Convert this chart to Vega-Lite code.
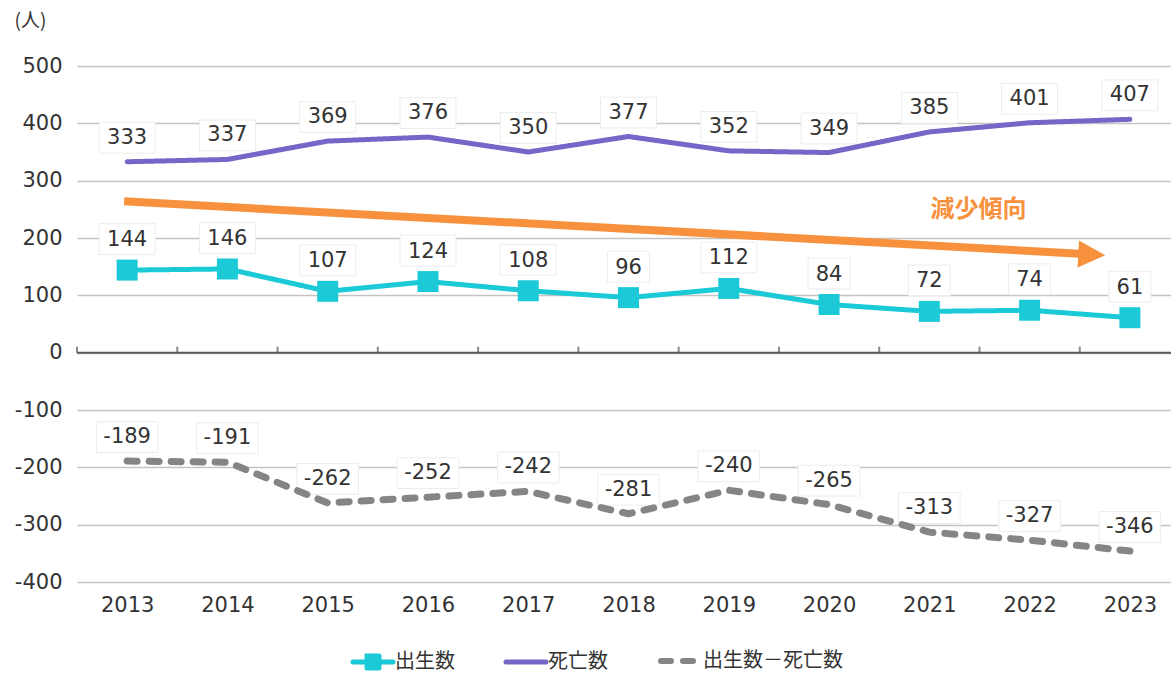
{
  "$schema": "https://vega.github.io/schema/vega-lite/v6.json",
  "width": 1094,
  "height": 516,
  "autosize": {"type": "none"},
  "padding": {"left": 77, "top": 66, "right": 0, "bottom": 91},
  "background": "white",
  "config": {"view": {"stroke": null}, "font": "DejaVu Sans"},
  "datasets": {
    "main": [
      {"year": 2013, "series": "出生数", "value": 144},
      {"year": 2014, "series": "出生数", "value": 146},
      {"year": 2015, "series": "出生数", "value": 107},
      {"year": 2016, "series": "出生数", "value": 124},
      {"year": 2017, "series": "出生数", "value": 108},
      {"year": 2018, "series": "出生数", "value": 96},
      {"year": 2019, "series": "出生数", "value": 112},
      {"year": 2020, "series": "出生数", "value": 84},
      {"year": 2021, "series": "出生数", "value": 72},
      {"year": 2022, "series": "出生数", "value": 74},
      {"year": 2023, "series": "出生数", "value": 61},
      {"year": 2013, "series": "死亡数", "value": 333},
      {"year": 2014, "series": "死亡数", "value": 337},
      {"year": 2015, "series": "死亡数", "value": 369},
      {"year": 2016, "series": "死亡数", "value": 376},
      {"year": 2017, "series": "死亡数", "value": 350},
      {"year": 2018, "series": "死亡数", "value": 377},
      {"year": 2019, "series": "死亡数", "value": 352},
      {"year": 2020, "series": "死亡数", "value": 349},
      {"year": 2021, "series": "死亡数", "value": 385},
      {"year": 2022, "series": "死亡数", "value": 401},
      {"year": 2023, "series": "死亡数", "value": 407},
      {"year": 2013, "series": "出生数－死亡数", "value": -189},
      {"year": 2014, "series": "出生数－死亡数", "value": -191},
      {"year": 2015, "series": "出生数－死亡数", "value": -262},
      {"year": 2016, "series": "出生数－死亡数", "value": -252},
      {"year": 2017, "series": "出生数－死亡数", "value": -242},
      {"year": 2018, "series": "出生数－死亡数", "value": -281},
      {"year": 2019, "series": "出生数－死亡数", "value": -240},
      {"year": 2020, "series": "出生数－死亡数", "value": -265},
      {"year": 2021, "series": "出生数－死亡数", "value": -313},
      {"year": 2022, "series": "出生数－死亡数", "value": -327},
      {"year": 2023, "series": "出生数－死亡数", "value": -346}
    ],
    "ticks": [
      {"year": 2012.5, "value": 0}, {"year": 2013.5, "value": 0}, {"year": 2014.5, "value": 0},
      {"year": 2015.5, "value": 0}, {"year": 2016.5, "value": 0}, {"year": 2017.5, "value": 0},
      {"year": 2018.5, "value": 0}, {"year": 2019.5, "value": 0}, {"year": 2020.5, "value": 0},
      {"year": 2021.5, "value": 0}, {"year": 2022.5, "value": 0}
    ],
    "arrow": [
      {"year": 2012.97, "value": 263.9},
      {"year": 2022.5, "value": 172.7}
    ],
    "arrowhead": [
      {"year": 2022.62, "value": 171}
    ],
    "note": [
      {"year": 2021.49, "value": 249.6, "label": "減少傾向"}
    ]
  },
  "layer": [
    {
      "data": {"values": [{"value": 0}]},
      "mark": {"type": "rule", "color": "#595959", "strokeWidth": 2},
      "encoding": {
        "y": {
          "field": "value",
          "type": "quantitative",
          "scale": {"domain": [-400, 500], "nice": false, "zero": false},
          "axis": {
            "values": [-400, -300, -200, -100, 0, 100, 200, 300, 400, 500],
            "labelExpr": "'' + datum.value",
            "grid": true,
            "gridColor": "#c4c4c4",
            "gridWidth": 1.5,
            "domain": false,
            "ticks": false,
            "labelFontSize": 21,
            "labelColor": "#333333",
            "labelPadding": 15,
            "title": "(人)",
            "titleFont": "Noto Sans CJK JP",
            "titleFontSize": 19,
            "titleFontWeight": "normal",
            "titleColor": "#333333",
            "titleAngle": 0,
            "titleAlign": "left",
            "titleBaseline": "middle",
            "titleX": -63,
            "titleY": -46
          }
        }
      }
    },
    {
      "data": {"name": "ticks"},
      "mark": {"type": "tick", "orient": "vertical", "color": "#595959", "size": 6, "thickness": 2, "yOffset": -3},
      "encoding": {
        "x": {
          "field": "year",
          "type": "quantitative",
          "scale": {"domain": [2012.5, 2023.41], "nice": false, "zero": false},
          "axis": {
            "values": [2013, 2014, 2015, 2016, 2017, 2018, 2019, 2020, 2021, 2022, 2023],
            "format": "d",
            "grid": false,
            "domain": false,
            "ticks": false,
            "labelFontSize": 21,
            "labelColor": "#333333",
            "labelPadding": 12,
            "labelFlush": false,
            "title": null
          }
        },
        "y": {"field": "value", "type": "quantitative"}
      }
    },
    {
      "data": {"name": "main"},
      "transform": [{"filter": "datum.series !== '出生数'"}],
      "mark": {"type": "point", "filled": true, "fill": "white", "stroke": "#ececec", "strokeWidth": 1, "opacity": 1, "size": 3136, "yOffset": -24},
      "encoding": {
        "x": {"field": "year", "type": "quantitative"},
        "y": {"field": "value", "type": "quantitative"},
        "shape": {
          "condition": {"test": "datum.series === '出生数－死亡数'", "value": "M-1.1,-0.55H1.1V0.55H-1.1Z"},
          "value": "M-1,-0.55H1V0.55H-1Z"
        }
      }
    },
    {
      "data": {"name": "main"},
      "transform": [{"filter": "datum.series === '出生数'"}],
      "mark": {"type": "point", "filled": true, "fill": "white", "stroke": "#ececec", "strokeWidth": 1, "opacity": 1, "size": 3136, "yOffset": -31},
      "encoding": {
        "x": {"field": "year", "type": "quantitative"},
        "y": {"field": "value", "type": "quantitative"},
        "shape": {
          "condition": {"test": "datum.value < 100", "value": "M-0.75,-0.55H0.75V0.55H-0.75Z"},
          "value": "M-1,-0.55H1V0.55H-1Z"
        }
      }
    },
    {
      "data": {"name": "arrow"},
      "mark": {"type": "line", "color": "#F7913D", "strokeWidth": 8, "strokeCap": "butt"},
      "encoding": {
        "x": {"field": "year", "type": "quantitative"},
        "y": {"field": "value", "type": "quantitative"}
      }
    },
    {
      "data": {"name": "arrowhead"},
      "mark": {"type": "point", "shape": "M-1,-1L1,0L-1,1Z", "filled": true, "color": "#F7913D", "opacity": 1, "size": 729, "angle": 3.1},
      "encoding": {
        "x": {"field": "year", "type": "quantitative"},
        "y": {"field": "value", "type": "quantitative"}
      }
    },
    {
      "data": {"name": "main"},
      "mark": {"type": "line", "strokeJoin": "round", "strokeCap": "round"},
      "encoding": {
        "x": {"field": "year", "type": "quantitative"},
        "y": {"field": "value", "type": "quantitative"},
        "color": {
          "field": "series",
          "type": "nominal",
          "scale": {"domain": ["出生数", "死亡数", "出生数－死亡数"], "range": ["#1BCAD6", "#7467C7", "#858585"]},
          "legend": {
            "orient": "none",
            "legendX": 286,
            "legendY": 585,
            "direction": "horizontal",
            "title": null,
            "labelFont": "Noto Sans CJK JP",
            "labelFontSize": 20,
            "labelColor": "#333333",
            "symbolSize": 1600,
            "symbolStrokeWidth": 5,
            "columnPadding": 41,
            "labelOffset": 12,
            "encode": {
              "symbols": {
                "update": {
                  "shape": {"signal": "datum.value === '出生数' ? 'M-1,0H1M-0.3,-0.3H0.3V0.3H-0.3ZM0,-0.5M0,0.5' : 'M-1,0H1M0,-0.5M0,0.5'"},
                  "fill": {"signal": "datum.value === '出生数' ? '#1BCAD6' : 'transparent'"},
                  "strokeDash": {"signal": "datum.value === '出生数－死亡数' ? [10, 13] : [1, 0]"},
                  "strokeCap": {"value": "round"},
                  "strokeWidth": {"signal": "datum.value === '出生数－死亡数' ? 6 : 5"}
                }
              }
            }
          }
        },
        "strokeDash": {
          "field": "series",
          "type": "nominal",
          "scale": {"domain": ["出生数", "死亡数", "出生数－死亡数"], "range": [[1, 0], [1, 0], [10, 12]]},
          "legend": null
        },
        "strokeWidth": {
          "condition": {"test": "datum.series === '出生数－死亡数'", "value": 7},
          "value": 5
        }
      }
    },
    {
      "data": {"name": "main"},
      "transform": [{"filter": "datum.series === '出生数'"}],
      "mark": {"type": "point", "shape": "square", "filled": true, "color": "#1BCAD6", "opacity": 1, "size": 441},
      "encoding": {
        "x": {"field": "year", "type": "quantitative"},
        "y": {"field": "value", "type": "quantitative"}
      }
    },
    {
      "data": {"name": "main"},
      "transform": [{"filter": "datum.series !== '出生数'"}],
      "mark": {"type": "text", "fontSize": 21, "color": "#333333", "baseline": "middle", "align": "center", "dy": -24},
      "encoding": {
        "x": {"field": "year", "type": "quantitative"},
        "y": {"field": "value", "type": "quantitative"},
        "text": {"field": "value", "type": "nominal"}
      }
    },
    {
      "data": {"name": "main"},
      "transform": [{"filter": "datum.series === '出生数'"}],
      "mark": {"type": "text", "fontSize": 21, "color": "#333333", "baseline": "middle", "align": "center", "dy": -30},
      "encoding": {
        "x": {"field": "year", "type": "quantitative"},
        "y": {"field": "value", "type": "quantitative"},
        "text": {"field": "value", "type": "nominal"}
      }
    },
    {
      "data": {"name": "note"},
      "mark": {"type": "text", "font": "Noto Sans CJK JP", "fontSize": 24, "fontWeight": "bold", "color": "#F7913D", "baseline": "middle", "align": "center"},
      "encoding": {
        "x": {"field": "year", "type": "quantitative"},
        "y": {"field": "value", "type": "quantitative"},
        "text": {"field": "label", "type": "nominal"}
      }
    }
  ]
}
